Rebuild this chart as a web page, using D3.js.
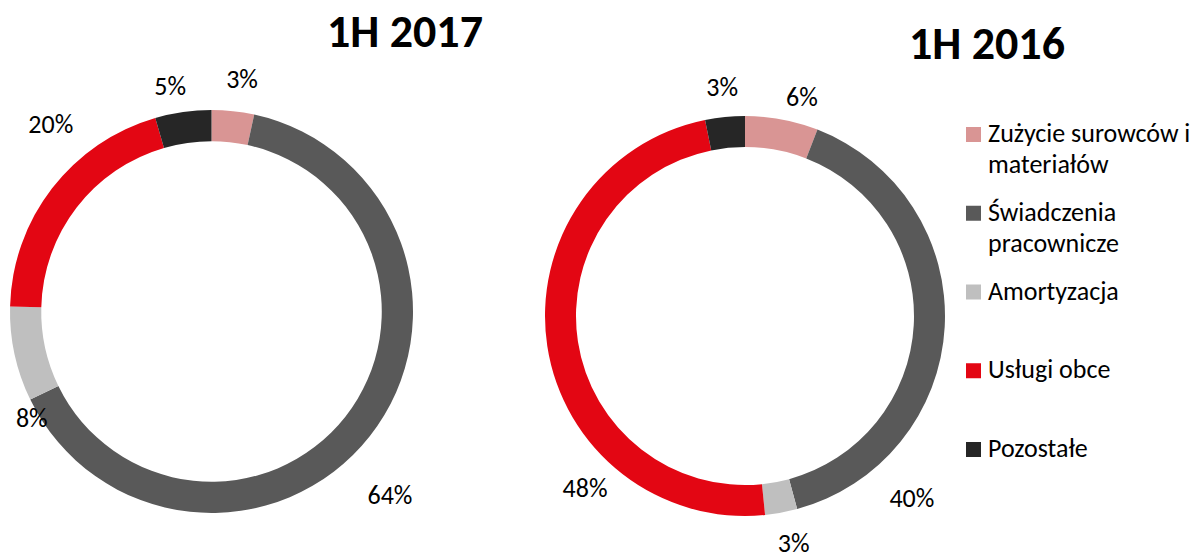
<!DOCTYPE html>
<html>
<head>
<meta charset="utf-8">
<script src="https://cdn.jsdelivr.net/npm/d3@7/dist/d3.min.js"></script>
<style>
    body { margin: 0; background: #fff; }
    svg text { font-family: Calibri, Carlito, "Open Sans", sans-serif; fill: #000; }
</style>
</head>
<body>
<svg id="chart" width="1199" height="559"></svg>
<script>
if(!d3){
    throw new Error("d3 failed to load");
}

// data
const categories = ["Zużycie surowców i materiałów", "Świadczenia pracownicze", "Amortyzacja", "Usługi obce", "Pozostałe"];
const legendLines = [["Zużycie surowców i", "materiałów"], ["Świadczenia", "pracownicze"], ["Amortyzacja"], ["Usługi obce"], ["Pozostałe"]];
const values2017 = [3.4, 64.4, 7.6, 20.1, 4.5];
const values2016 = [5.9, 39.9, 2.6, 48.4, 3.2];
const titles = ["1H 2017", "1H 2016"];

// label placement (angle in degrees clockwise from top, distance from centre)
const labelAngle2017 = [7.5, 135.8, 239.3, 319.4, 349.6];
const labelDist2017  = [234, 256, 209, 247, 229];
const labelAngle2016 = [14.6, 137.5, 167.9, 222.9, 354.3];
const labelDist2016  = [226, 247, 232, 235, 230];

const colours = ["#D99594", "#595959", "#BFBFBF", "#E30613", "#262626"];

const svg = d3.select("#chart");

const colour = d3.scaleOrdinal().domain(categories).range(colours);

const pie = d3.pie().sort(null).value(d => d.value);

const rad = (deg) => deg * Math.PI / 180;

const donut = (opts) => {
    const data = categories.map((c, i) => ({cat: c, value: opts.values[i]}));
    const arc = d3.arc()
        .innerRadius(opts.r * 0.845)
        .outerRadius(opts.r);

    const g = svg.append("g")
        .attr("transform", `translate(${opts.cx},${opts.cy})`);

    const arcs = pie(data);

    g.selectAll("path")
        .data(arcs)
        .join("path")
        .attr("d", arc)
        .attr("fill", d => colour(d.data.cat));

    // labels: placed on a zero-width arc at the given angle / distance
    g.selectAll("text.lbl")
        .data(arcs)
        .join("text")
        .attr("class", "lbl")
        .attr("transform", (d, i) => {
            const a = rad(opts.labelAngle[i]);
            const p = d3.arc()
                .innerRadius(opts.labelDist[i])
                .outerRadius(opts.labelDist[i])
                .startAngle(a).endAngle(a).centroid();
            return `translate(${p[0]},${p[1]})`;
        })
        .attr("text-anchor", "middle")
        .attr("dy", "0.34em")
        .style("font-size", "26px")
        .text(d => Math.round(d.data.value) + "%");

    svg.append("text")
        .attr("x", opts.tx)
        .attr("y", opts.ty)
        .attr("text-anchor", "middle")
        .style("font-size", "46px")
        .style("font-weight", "bold")
        .text(opts.title);
};

donut({values: values2017, cx: 211.5, cy: 311.5, r: 201.5,
       labelAngle: labelAngle2017, labelDist: labelDist2017,
       title: titles[0], tx: 405, ty: 47});

donut({values: values2016, cx: 745, cy: 316, r: 200,
       labelAngle: labelAngle2016, labelDist: labelDist2016,
       title: titles[1], tx: 987, ty: 59});

// legend
const legend = svg.append("g").attr("transform", "translate(966,142)");
const step = 78.75;

const item = legend.selectAll("g")
    .data(categories)
    .join("g")
    .attr("transform", (d, i) => `translate(0,${i * step})`);

item.append("rect")
    .attr("x", 0)
    .attr("y", -15)
    .attr("width", 15)
    .attr("height", 15)
    .attr("fill", d => colour(d));

item.each(function(d, i){
    d3.select(this).selectAll("text")
        .data(legendLines[i])
        .join("text")
        .attr("x", 22)
        .attr("y", (t, j) => j * 31)
        .style("font-size", "26px")
        .text(t => t);
});
</script>
</body>
</html>
